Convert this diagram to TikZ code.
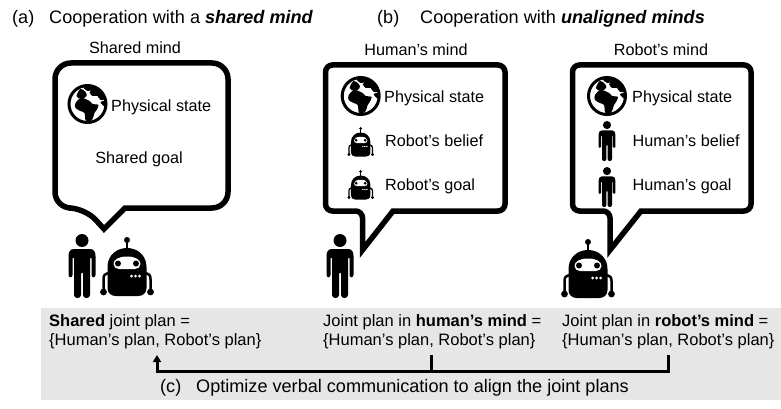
\documentclass[tikz,border=0pt]{standalone}
\usepackage{fontspec}
\setmainfont{Liberation Sans}
\usetikzlibrary{arrows.meta}
\definecolor{panel}{HTML}{E6E6E6}
\newcommand{\humanIcon}[3]{%
  \begin{scope}[shift={(#1,#2)},scale=#3]
    \fill[black] (0,6.5) circle [radius=6.5];
    \fill[black] (-8,15) -- (8,15) .. controls (12,15) and (13.5,18) .. (13.5,22)
      -- (13.5,41) .. controls (13.5,44) and (9.5,44) .. (9.5,41) -- (9.5,24) -- (8,24)
      -- (8,61) .. controls (8,65) and (1,65) .. (1,61) -- (1,39) -- (-1,39) -- (-1,61)
      .. controls (-1,65) and (-8,65) .. (-8,61) -- (-8,24) -- (-9.5,24) -- (-9.5,41)
      .. controls (-9.5,44) and (-13.5,44) .. (-13.5,41) -- (-13.5,22)
      .. controls (-13.5,18) and (-12,15) .. (-8,15) -- cycle;
  \end{scope}}
\newcommand{\robotIcon}[3]{%
  \begin{scope}[shift={(#1,#2)},scale=#3]
    \fill[black] (0,3) circle [radius=3];
    \draw[black,line width=#3*2.2pt] (0,3) -- (0,13);
    \fill[black] (-19.5,30) .. controls (-19.5,18) and (-10,11) .. (0,11)
      .. controls (10,11) and (19.5,18) .. (19.5,30) -- (19.5,51)
      .. controls (19.5,56) and (16,59) .. (11,59) -- (-11,59)
      .. controls (-16,59) and (-19.5,56) .. (-19.5,51) -- cycle;
    \fill[white] (-13.5,27) .. controls (-13.5,22.5) and (-8,19.5) .. (0,19.5)
      .. controls (8,19.5) and (13.5,22.5) .. (13.5,27)
      .. controls (13.5,30) and (11,32) .. (8,32) -- (-8,32)
      .. controls (-11,32) and (-13.5,30) .. (-13.5,27) -- cycle;
    \fill[black] (-9,26.5) circle [radius=3] (9,26.5) circle [radius=3];
    \fill[white] (4.5,39) circle [radius=1.5] (8.5,39) circle [radius=1.5] (12.5,39) circle [radius=1.5];
    \draw[black,line width=#3*2.5pt] (-19,36) .. controls (-22,37) and (-23.5,38) .. (-23.5,42) -- (-23.5,55);
    \draw[black,line width=#3*2.5pt] (19,36) .. controls (22,37) and (23.5,38) .. (23.5,42) -- (23.5,55);
    \fill[black] (-23.5,55) circle [radius=3.4] (23.5,55) circle [radius=3.4];
  \end{scope}}
\newcommand{\globeIcon}[2]{%
  \begin{scope}[shift={(#1,#2)}]
    \draw[black,fill=white,line width=3pt] (0,0) circle [radius=18.5];
    \fill[black] plot[smooth cycle,tension=.55] coordinates
      {(-12,-1) (-7,-6) (-2,-5) (2,-3) (5,0) (11,1) (9,6) (7,9) (5,15) (1,18) (-2,16) (-3,9) (-7,7) (-12,4)};
    \fill[black] plot[smooth cycle,tension=.55] coordinates
      {(-11,-8) (-7,-15) (-2,-12) (-1,-8) (-6,-5)};
    \fill[black] plot[smooth cycle,tension=.55] coordinates
      {(-4,-17) (4,-18.5) (12,-15) (18,-6) (13,-4) (10,-8) (5,-8) (2,-12) (5,-14) (0,-13)};
    \fill[black] plot[smooth cycle,tension=.55] coordinates
      {(13,-2) (18,-3) (18,3) (15,1)};
  \end{scope}}
\tikzset{
  bubble/.style={draw=black,fill=white,line width=5.5pt,line join=miter},
  lab/.style={font=\fontsize{16.2}{19}\selectfont,anchor=base west,inner sep=0pt,text=black},
  labc/.style={font=\fontsize{16.2}{19}\selectfont,anchor=base,inner sep=0pt,text=black},
  planlab/.style={font=\fontsize{16.5}{19}\selectfont,anchor=base west,inner sep=0pt,text=black},
  ttl/.style={font=\fontsize{18.1}{21}\selectfont,anchor=base west,inner sep=0pt,text=black},
  planlink/.style={draw=black,line width=3pt},
}
\begin{document}
\begin{tikzpicture}[x=1pt,y=-1pt]
\useasboundingbox (0,0) rectangle (781,409);
% panel
\fill[panel] (41,308) rectangle (781,400);
% titles
\node[ttl] (ta) at (12,24) {(a)};
\node[ttl] (tat) at (49,24) {Cooperation with a \textbf{\textit{shared mind}}};
\node[ttl] (tb) at (377,24) {(b)};
\node[ttl] (tbt) at (420,24) {Cooperation with \textbf{\textit{unaligned minds}}};
\node[labc] (ma) at (135,53.5) {Shared mind};
\node[labc] (mb) at (416,55.5) {Human’s mind};
\node[labc] (mc) at (661,55.5) {Robot’s mind};
% bubbles
\path[bubble] (85,208) [sharp corners] -- (104,229) -- (125,208) [rounded corners=16pt] -- (228,208) -- (228,63) -- (55,63) -- (55,208) -- cycle;
\path[bubble] (362.5,211) [sharp corners] -- (362.5,250) -- (393,211) [rounded corners=7pt] -- (505,211) -- (505,65) -- (325.5,65) -- (325.5,211) -- cycle;
\path[bubble] (610,211) [sharp corners] -- (610,250) -- (641,211) [rounded corners=7pt] -- (751,211) -- (751,65) -- (572.5,65) -- (572.5,211) -- cycle;
% bubble a contents
\globeIcon{87.5}{104}
\node[lab] (a1) at (111,111.5) {Physical state};
\node[labc] (a2) at (139,163) {Shared goal};
% bubble b contents
\globeIcon{360.7}{96}
\node[lab] (b1) at (384,102.7) {Physical state};
\robotIcon{360.7}{127}{.5}
\node[lab] (b2) at (385,146.7) {Robot’s belief};
\robotIcon{360.7}{170}{.5}
\node[lab] (b3) at (385,190) {Robot’s goal};
% bubble c contents
\globeIcon{607}{96}
\node[lab] (c1) at (632,102.7) {Physical state};
\humanIcon{607}{121}{.625}
\node[lab] (c2) at (632.5,146.7) {Human’s belief};
\humanIcon{607}{167}{.625}
\node[lab] (c3) at (632.5,190) {Human’s goal};
% agents
\humanIcon{82}{234}{1}
\robotIcon{127}{237}{1}
\humanIcon{340}{234}{1}
\robotIcon{588}{239}{1}
% plans
\node[planlab] (p1a) at (49,326) {\textbf{Shared} joint plan =};
\node[planlab] (p1b) at (49,345) {\{Human’s plan, Robot’s plan\}};
\node[planlab] (p2a) at (323,326) {Joint plan in \textbf{human’s mind} =};
\node[planlab] (p2b) at (323,345) {\{Human’s plan, Robot’s plan\}};
\node[planlab] (p3a) at (562,326) {Joint plan in \textbf{robot’s mind} =};
\node[planlab] (p3b) at (562,345) {\{Human’s plan, Robot’s plan\}};
\node[ttl] (oc) at (160,392) {(c)};
\node[ttl] (ot) at (196,392) {Optimize verbal communication to align the joint plans};
% connectors
\coordinate (js) at (157,355);
\coordinate (jh) at (431,355);
\coordinate (jr) at (668,355);
\coordinate (bus) at (157,371);
\draw[planlink,-{Triangle[length=7pt,width=8pt]}] (jr) |- (bus) -- (js);
\draw[planlink] (jh) -- (jh |- bus);
\end{tikzpicture}
\end{document}
